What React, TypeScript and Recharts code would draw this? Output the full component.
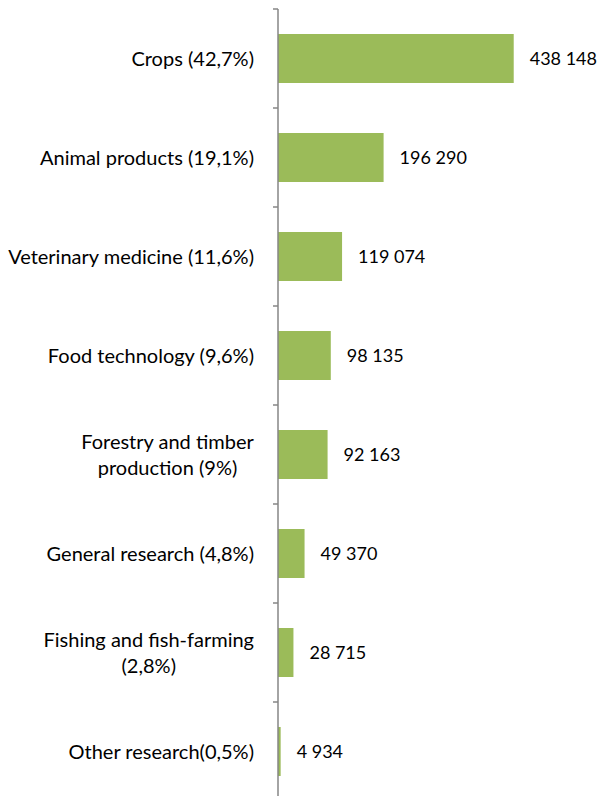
import React from 'react';
import { BarChart, Bar, XAxis, YAxis, LabelList } from 'recharts';

// categories, top to bottom ("\n" = line break in the axis label)
const categories = [
    'Crops (42,7%)',
    'Animal products (19,1%)',
    'Veterinary medicine (11,6%)',
    'Food technology (9,6%)',
    'Forestry and timber\nproduction (9%)',
    'General research (4,8%)',
    'Fishing and fish-farming\n(2,8%)',
    'Other research(0,5%)',
];

const values = [438148, 196290, 119074, 98135, 92163, 49370, 28715, 4934];

const data = categories.map((name, i) => ({ name, value: values[i] }));

const FONT = 'Lato, "Open Sans", sans-serif';
const CAT_SIZE = 20;
const VAL_SIZE = 18;
const AXIS_X = 278;
const TOP = 9;
const BAND = 99;
const BAR_COLOR = '#9BBB59';
const AXIS_COLOR = '#868686';

const fmt = (v: number) => String(v).replace(/\B(?=(\d{3})+(?!\d))/g, ' ');

let ctx: CanvasRenderingContext2D | null = null;
function textWidth(s: string) {
    if (!ctx) ctx = document.createElement('canvas').getContext('2d');
    if (!ctx) return s.length * 9;
    ctx.font = `${CAT_SIZE}px ${FONT}`;
    return ctx.measureText(s).width;
}

function CategoryTick(props: any) {
    const { y, payload, index } = props;
    const lines: string[] = String(payload.value).split('\n');
    const right = AXIS_X - 24;
    const widest = Math.max(...lines.map(textWidth));
    const cx = right - widest / 2;
    const lineH = 26;
    const first = y + 7 - ((lines.length - 1) * lineH) / 2;
    return (
        <g>
            <line x1={AXIS_X - 5} x2={AXIS_X} y1={y - BAND / 2} y2={y - BAND / 2} stroke={AXIS_COLOR} strokeWidth={1.5} />
            {index === categories.length - 1 && (
                <line x1={AXIS_X - 5} x2={AXIS_X} y1={y + BAND / 2} y2={y + BAND / 2} stroke={AXIS_COLOR} strokeWidth={1.5} />
            )}
            {lines.map((l, i) => (
                <text
                    key={i}
                    x={lines.length > 1 ? cx : right}
                    y={first + i * lineH}
                    textAnchor={lines.length > 1 ? 'middle' : 'end'}
                    fontSize={CAT_SIZE}
                    fontFamily={FONT}
                    fill="#000"
                >
                    {l}
                </text>
            ))}
        </g>
    );
}

export default function App() {
    return (
        <div style={{ position: 'absolute', left: 0, top: 0, width: 602, height: 796, overflow: 'hidden', background: '#fff' }}>
            <BarChart
                width={602}
                height={TOP + BAND * categories.length + 1}
                data={data}
                layout="vertical"
                margin={{ top: TOP, right: 55, bottom: 1, left: 0 }}
                barSize={49}
            >
                <XAxis type="number" domain={[0, 500000]} hide />
                <YAxis
                    type="category"
                    dataKey="name"
                    width={AXIS_X}
                    tickLine={false}
                    axisLine={{ stroke: AXIS_COLOR, strokeWidth: 1.5 }}
                    tick={<CategoryTick />}
                    interval={0}
                />
                <Bar dataKey="value" fill={BAR_COLOR} isAnimationActive={false}>
                    <LabelList
                        dataKey="value"
                        position="right"
                        offset={16}
                        formatter={(v: any) => fmt(Number(v))}
                        style={{ fontSize: VAL_SIZE, fontFamily: FONT, fill: '#000' }}
                    />
                </Bar>
            </BarChart>
        </div>
    );
}
